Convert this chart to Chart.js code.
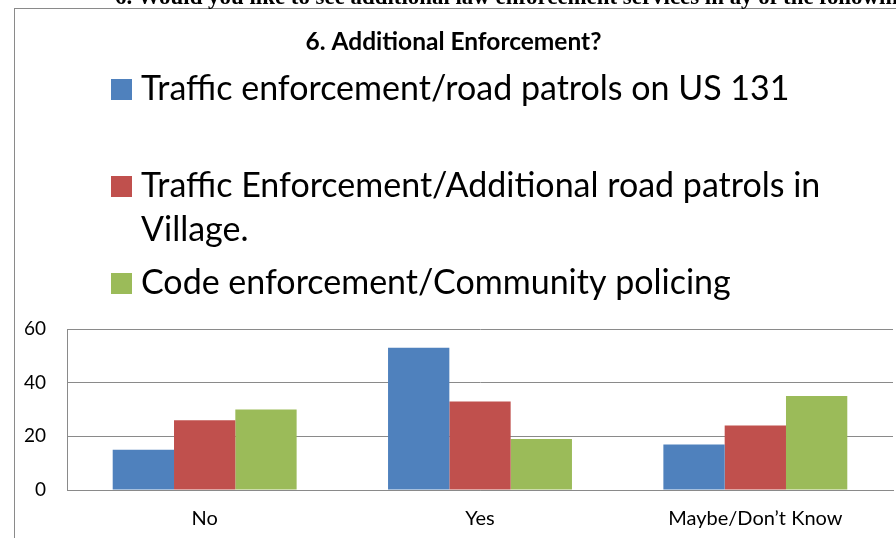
<!DOCTYPE html>
<html>
<head>
<meta charset="utf-8">
<script src="https://cdn.jsdelivr.net/npm/chart.js@4/dist/chart.umd.min.js"></script>
<style>
  html, body { margin: 0; padding: 0; background: #fff; overflow: hidden; }
  #wrap { position: relative; width: 896px; height: 538px; overflow: hidden; }
  #header {
    position: absolute; left: 115px; top: -14px; z-index: 2;
    font: bold 22.9px/22.9px 'Liberation Serif', 'Times New Roman', serif;
    white-space: nowrap; color: #000;
  }
  canvas { position: absolute; left: 0; top: 0; }
</style>
</head>
<body>
<div id="wrap">
  <div id="header">6. Would you like to see additional law enforcement services in ay of the following</div>
  <canvas id="chart" width="896" height="538"></canvas>
</div>
<script>
const chartTitle = '6. Additional Enforcement?';
const categories = ['No', 'Yes', 'Maybe/Don\u2019t Know'];
const seriesLabels = [
    'Traffic enforcement/road patrols on US 131',
    'Traffic Enforcement/Additional road patrols in Village.',
    'Code enforcement/Community policing'
];
const us131Patrols = [15, 53, 17];
const villagePatrols = [26, 33, 24];
const codeEnforcement = [30, 19, 35];
const seriesColors = ['#4F81BD', '#C0504D', '#9BBB59'];
const yMin = 0, yMax = 60, yStep = 20;

const FONT = 'Lato, Calibri, Carlito, sans-serif';
const GRID = '#8a8a8a';

// Excel-style big legend above the plot, plus the outer frame
const bigLegend = {
    id: 'bigLegend',
    beforeDraw(chart) {
        const ctx = chart.ctx;
        ctx.save();
        ctx.strokeStyle = GRID;
        ctx.lineWidth = 1;
        ctx.strokeRect(14.5, 8.5, 900, 600);
        ctx.restore();
    },
    afterDraw(chart) {
        const ctx = chart.ctx;
        const firstBaselines = [100, 197, 294];
        const lineGap = 44;
        const boxX = 111, boxSize = 21, textX = 141, maxW = 720;
        ctx.save();
        ctx.font = '34px ' + FONT;
        ctx.textBaseline = 'alphabetic';
        ctx.textAlign = 'left';
        chart.data.datasets.forEach((ds, i) => {
            const base = firstBaselines[i];
            ctx.fillStyle = ds.backgroundColor;
            ctx.fillRect(boxX, base - boxSize, boxSize, boxSize);
            // simple word wrap
            const words = ds.label.split(' ');
            const lines = [];
            let cur = '';
            words.forEach(w => {
                const test = cur ? cur + ' ' + w : w;
                if (ctx.measureText(test).width > maxW && cur) {
                    lines.push(cur);
                    cur = w;
                } else {
                    cur = test;
                }
            });
            if (cur) lines.push(cur);
            ctx.fillStyle = '#000';
            lines.forEach((ln, j) => ctx.fillText(ln, textX, base + j * lineGap));
        });
        ctx.restore();
    }
};

new Chart(document.getElementById('chart'), {
    type: 'bar',
    data: {
        labels: categories,
        datasets: [
            { label: seriesLabels[0], data: us131Patrols, backgroundColor: seriesColors[0] },
            { label: seriesLabels[1], data: villagePatrols, backgroundColor: seriesColors[1] },
            { label: seriesLabels[2], data: codeEnforcement, backgroundColor: seriesColors[2] }
        ]
    },
    options: {
        responsive: false,
        animation: false,
        events: [],
        datasets: {
            bar: { barPercentage: 1, categoryPercentage: 0.668, borderWidth: 0 }
        },
        layout: { padding: { left: 14, top: 8, right: 3, bottom: 0 } },
        scales: {
            x: {
                grid: { display: false, drawTicks: false },
                border: { display: true, color: GRID },
                ticks: { color: '#000', font: { family: FONT, size: 20 }, padding: 17 },
                afterFit: (s) => { s.height = 48; }
            },
            y: {
                min: yMin,
                max: yMax,
                ticks: { stepSize: yStep, color: '#000', font: { family: FONT, size: 19 }, padding: 21 },
                grid: { color: GRID, drawTicks: false },
                border: { display: true, color: GRID },
                afterFit: (s) => { s.width = 53; }
            }
        },
        plugins: {
            legend: { display: false },
            tooltip: { enabled: false },
            title: {
                display: true,
                text: chartTitle,
                color: '#000',
                font: { family: FONT, size: 24.5, weight: 'bold' },
                padding: { top: 19, bottom: 272.6 }
            }
        }
    },
    plugins: [bigLegend]
});
</script>
</body>
</html>
